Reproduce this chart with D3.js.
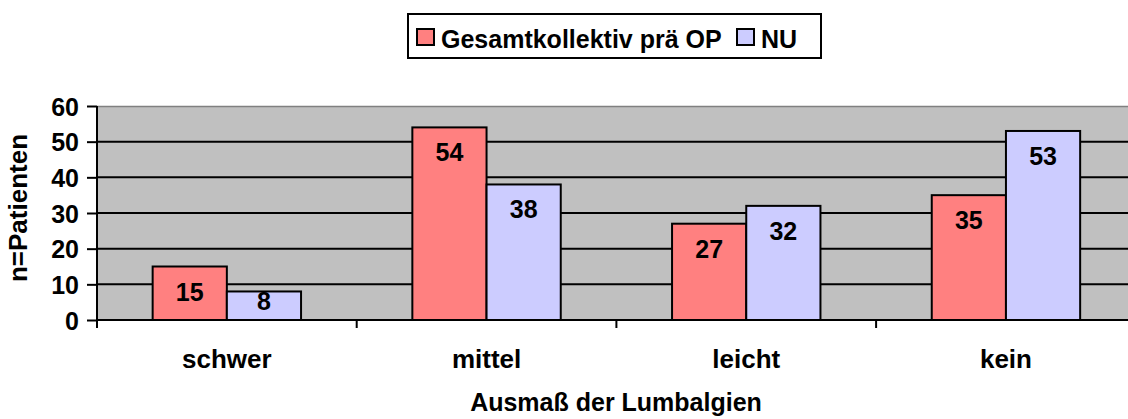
<!DOCTYPE html>
<html>
<head>
<meta charset="utf-8">
<script src="https://cdn.jsdelivr.net/npm/d3@7"></script>
<style>
  body { margin: 0; background: #fff; }
  text { font-family: "Liberation Sans", Arial, sans-serif; font-weight: bold; fill: #000; }
</style>
</head>
<body>
<svg id="chart" width="1128" height="419"></svg>
<script>
// data
let categories = ["schwer", "mittel", "leicht", "kein"];
let seriesNames = ["Gesamtkollektiv prä OP", "NU"];
let preOp = [15, 54, 27, 35];
let nu = [8, 38, 32, 53];
let yTicks = [0, 10, 20, 30, 40, 50, 60];
let colors = ["#FF8080", "#CCCCFF"];

let svg = d3.select("#chart");

let margin = { top: 106, left: 97, bottom: 99 };
let plotHeight = 419 - margin.top - margin.bottom;
let bandWidth = 259.7;
let plotWidth = bandWidth * categories.length;

let x = d3.scaleBand()
  .domain(categories)
  .range([0, plotWidth]);

let inner = d3.scaleBand()
  .domain(seriesNames)
  .range([0, x.bandwidth()])
  .paddingOuter(0.75)
  .paddingInner(0);

let y = d3.scaleLinear()
  .domain([0, 60])
  .range([plotHeight, 0]);

let plot = svg.append("g")
  .attr("transform", "translate(" + margin.left + "," + margin.top + ")");

// gray plot background
plot.append("rect")
  .attr("x", 0).attr("y", 0)
  .attr("width", plotWidth).attr("height", plotHeight)
  .attr("fill", "#C0C0C0");

plot.append("line")
  .attr("x1", 0).attr("x2", plotWidth)
  .attr("y1", 0.5).attr("y2", 0.5)
  .attr("stroke", "#808080").attr("stroke-width", 1.5);

// grid lines
plot.selectAll(".grid")
  .data(yTicks.filter(t => t > 0 && t < 60))
  .enter().append("line")
  .attr("class", "grid")
  .attr("x1", 0).attr("x2", plotWidth)
  .attr("y1", d => y(d)).attr("y2", d => y(d))
  .attr("stroke", "#000").attr("stroke-width", 2);

// bars
let rows = [];
categories.forEach((c, i) => {
  rows.push({ cat: c, series: seriesNames[0], value: preOp[i], color: colors[0] });
  rows.push({ cat: c, series: seriesNames[1], value: nu[i], color: colors[1] });
});

plot.selectAll(".bar")
  .data(rows)
  .enter().append("rect")
  .attr("class", "bar")
  .attr("x", d => x(d.cat) + inner(d.series))
  .attr("y", d => y(d.value))
  .attr("width", inner.bandwidth())
  .attr("height", d => plotHeight - y(d.value))
  .attr("fill", d => d.color)
  .attr("stroke", "#000")
  .attr("stroke-width", 2);

// value labels inside the bars
plot.selectAll(".val")
  .data(rows)
  .enter().append("text")
  .attr("class", "val")
  .attr("x", d => x(d.cat) + inner(d.series) + inner.bandwidth() / 2)
  .attr("y", d => Math.min(y(d.value) + 34, plotHeight - 10))
  .attr("text-anchor", "middle")
  .attr("font-size", 25)
  .text(d => d.value);

// y axis
let yAxis = d3.axisLeft(y).tickValues(yTicks).tickSize(10).tickPadding(8);
let yGroup = plot.append("g").call(yAxis);
yGroup.select(".domain").remove();
yGroup.selectAll(".tick line").attr("stroke", "#000").attr("stroke-width", 2);
yGroup.selectAll(".tick text")
  .attr("font-size", 25)
  .attr("font-family", null)
  .attr("fill", "#000")
  .attr("dy", "0.36em");
yGroup.append("line")
  .attr("x1", 0).attr("x2", 0)
  .attr("y1", 0).attr("y2", plotHeight + 8)
  .attr("stroke", "#000").attr("stroke-width", 2);

// x axis
let xGroup = plot.append("g").attr("transform", "translate(0," + plotHeight + ")");
xGroup.append("line")
  .attr("x1", 0).attr("x2", plotWidth)
  .attr("y1", 0).attr("y2", 0)
  .attr("stroke", "#000").attr("stroke-width", 2);
xGroup.selectAll(".xtick")
  .data(categories)
  .enter().append("line")
  .attr("x1", d => x(d)).attr("x2", d => x(d))
  .attr("y1", 0).attr("y2", 8)
  .attr("stroke", "#000").attr("stroke-width", 2);
xGroup.selectAll(".xlabel")
  .data(categories)
  .enter().append("text")
  .attr("x", d => x(d) + x.bandwidth() / 2)
  .attr("y", 48)
  .attr("text-anchor", "middle")
  .attr("font-size", 26)
  .text(d => d);

// axis titles
svg.append("text")
  .attr("x", 616)
  .attr("y", 411)
  .attr("text-anchor", "middle")
  .attr("font-size", 25)
  .text("Ausmaß der Lumbalgien");

svg.append("text")
  .attr("transform", "translate(27,208) rotate(-90)")
  .attr("text-anchor", "middle")
  .attr("font-size", 26)
  .text("n=Patienten");

// legend
let legend = svg.append("g");
legend.append("rect")
  .attr("x", 408).attr("y", 14)
  .attr("width", 413).attr("height", 44)
  .attr("fill", "#fff").attr("stroke", "#000").attr("stroke-width", 2);

let legendX = [417, 737];
seriesNames.forEach((s, i) => {
  legend.append("rect")
    .attr("x", legendX[i]).attr("y", 29)
    .attr("width", 17).attr("height", 16)
    .attr("fill", colors[i]).attr("stroke", "#000").attr("stroke-width", 2);
  legend.append("text")
    .attr("x", legendX[i] + 24).attr("y", 48)
    .attr("font-size", 25)
    .text(s);
});
</script>
</body>
</html>
